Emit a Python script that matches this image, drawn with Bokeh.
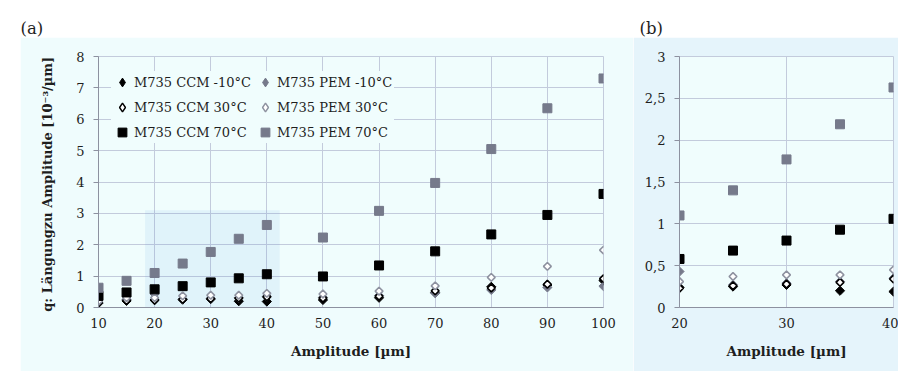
from bokeh.plotting import figure
from bokeh.models import FixedTicker, Legend, LegendItem, BoxAnnotation, Range1d, Label
from bokeh.layouts import column, row
from bokeh.embed import file_html
from bokeh.resources import INLINE
import math

# ---------------- data ----------------
amp = [10, 15, 20, 25, 30, 35, 40, 50, 60, 70, 80, 90, 100]
ccm_m10 = [0.14, 0.21, 0.24, 0.25, 0.27, 0.20, 0.19, 0.24, 0.31, 0.47, 0.66, 0.72, 0.86]
pem_m10 = [0.17, 0.25, 0.43, 0.27, 0.29, 0.31, 0.35, 0.32, 0.38, 0.46, 0.56, 0.64, 0.68]
ccm_30 = [0.15, 0.22, 0.23, 0.26, 0.28, 0.30, 0.34, 0.30, 0.36, 0.53, 0.62, 0.74, 0.92]
pem_30 = [0.20, 0.31, 0.31, 0.37, 0.39, 0.39, 0.45, 0.43, 0.52, 0.69, 0.96, 1.31, 1.83]
ccm_70 = [0.37, 0.48, 0.58, 0.68, 0.80, 0.93, 1.06, 0.99, 1.34, 1.79, 2.33, 2.95, 3.62]
pem_70 = [0.63, 0.85, 1.10, 1.40, 1.77, 2.19, 2.63, 2.23, 3.08, 3.97, 5.05, 6.35, 7.30]

series_names = ["M735 CCM -10°C", "M735 PEM -10°C", "M735 CCM 30°C",
                "M735 PEM 30°C", "M735 CCM 70°C", "M735 PEM 70°C"]

xticks_a = [10, 20, 30, 40, 50, 60, 70, 80, 90, 100]
yticks_a = [0, 1, 2, 3, 4, 5, 6, 7, 8]
xticks_b = [20, 30, 40]
yticks_b = [0, 0.5, 1, 1.5, 2, 2.5, 3]
ytick_labels_b = ["0", "0,5", "1", "1,5", "2", "2,5", "3"]

zoom_lo, zoom_hi = 20, 40          # range shown in panel (b)
highlight = dict(left=18.3, right=42.3, bottom=0, top=3.1)

x_title = "Amplitude [µm]"
y_title = "q: Längungzu  Amplitude [10⁻³/µm]"

# ---------------- style ----------------
FONT = "DejaVu Serif"
BG_A = "#effcfd"
BG_B = "#e5f4fb"
BG_PLOT = "#f0fdfd"
GRID = "#c3cbdc"
AXIS = "#8d91a0"
GREY = "#767a8b"
GREY_O = "#8e92a0"
TXT = "#1e1e1e"

styles = [
    dict(fill_color="black", line_color="black", size=6.5, line_width=1),
    dict(fill_color=GREY, line_color=GREY, size=6.5, line_width=1),
    dict(fill_color="white", line_color="black", size=5.5, line_width=1.6),
    dict(fill_color="white", line_color=GREY_O, size=5.5, line_width=1.6),
    dict(fill_color="black", line_color="black", size=9, line_width=1),
    dict(fill_color=GREY, line_color=GREY, size=9, line_width=1),
]
is_diamond = [True, True, True, True, False, False]
all_series = [ccm_m10, pem_m10, ccm_30, pem_30, ccm_70, pem_70]
NAN = float("nan")

TOP, BOTTOM = 19, 64          # borders above / below the plot frames
H = 334                        # height of the plot row


def draw_series(p, xs, ys, st, diamond):
    if diamond:
        return p.scatter(xs, ys, marker="square", angle=math.pi / 4, **st)
    return p.scatter(xs, ys, marker="square", **st)


def style_axes(p, xticks, yticks, ylabels=None, ytitle=None):
    for ax in (p.xaxis[0], p.yaxis[0]):
        ax.axis_line_color = AXIS
        ax.major_tick_line_color = AXIS
        ax.minor_tick_line_color = None
        ax.major_tick_in = 0
        ax.major_label_text_font = FONT
        ax.major_label_text_font_size = "13px"
        ax.major_label_text_color = TXT
        ax.axis_label_text_font = FONT
        ax.axis_label_text_font_size = "13px"
        ax.axis_label_text_font_style = "bold"
        ax.axis_label_text_color = TXT
    p.xaxis[0].axis_label_text_font_size = "13.5px"
    p.xaxis[0].ticker = FixedTicker(ticks=xticks)
    p.yaxis[0].ticker = FixedTicker(ticks=yticks)
    if ylabels:
        p.yaxis[0].major_label_overrides = {t: l for t, l in zip(yticks, ylabels)}
    p.xaxis[0].major_tick_out = 0
    p.xaxis[0].major_label_standoff = 10
    p.xaxis[0].axis_label = x_title
    p.xaxis[0].axis_label_standoff = 12
    p.yaxis[0].major_tick_out = 5
    p.yaxis[0].major_label_standoff = 9
    if ytitle:
        p.yaxis[0].axis_label = ytitle
        p.yaxis[0].axis_label_standoff = 18
    p.grid.grid_line_color = GRID
    p.grid.grid_line_width = 1
    p.xgrid.ticker = FixedTicker(ticks=xticks)
    p.ygrid.ticker = FixedTicker(ticks=yticks)
    p.outline_line_color = GRID


def blank(width, height, color, top=0, bottom=0):
    f = figure(width=width, height=height, x_range=Range1d(0, width),
               y_range=Range1d(height - bottom, top),
               output_backend="svg", toolbar_location=None,
               x_axis_type=None, y_axis_type=None, min_border=0,
               min_border_top=top, min_border_bottom=bottom,
               border_fill_color=color, background_fill_color=color)
    f.outline_line_color = None
    f.grid.visible = False
    return f


# ---------------- header ----------------
head = blank(898, 37, "white")
for txt, xx in (("(a)", 20), ("(b)", 639)):
    head.add_layout(Label(x=xx, y=28, text=txt, text_font=FONT, text_font_size="16.5px",
                          text_color=TXT, text_baseline="alphabetic"))

spacer_white = blank(20, H, "white", TOP, BOTTOM)

# ---------------- panel (a) ----------------
pa = figure(width=613, height=H, x_range=Range1d(10, 100), y_range=Range1d(0, 8),
            output_backend="svg", toolbar_location=None,
            min_border_left=78, min_border_right=30, min_border_top=TOP, min_border_bottom=BOTTOM,
            border_fill_color=BG_A, background_fill_color=BG_PLOT)
style_axes(pa, xticks_a, yticks_a, ytitle=y_title)
pa.add_layout(BoxAnnotation(fill_color="#3d8fe0", fill_alpha=0.09, line_color=None,
                            level="underlay", **highlight))

legend_renderers = []
for ys, st, dia in zip(all_series, styles, is_diamond):
    draw_series(pa, amp, ys, st, dia)
    # key swatch only (no visible point): diamond / square marker as in the original key
    lst = dict(st)
    lst["size"] = 9
    lst["line_width"] = 1.4 if lst["fill_color"] == "white" else 1
    legend_renderers.append(pa.scatter([NAN], [NAN], marker="diamond" if dia else "square", **lst))

items = [LegendItem(label=n, renderers=[r]) for n, r in zip(series_names, legend_renderers)]
legend = Legend(items=items, ncols=2, orientation="horizontal", location=(13, 164),
                glyph_width=22, glyph_height=22, label_standoff=1, spacing=3, padding=5,
                label_width=117, margin=0,
                label_text_font=FONT, label_text_font_size="13px", label_text_color=TXT,
                background_fill_color=BG_PLOT, background_fill_alpha=1.0,
                border_line_color=None)
pa.add_layout(legend)

# ---------------- panel (b) ----------------
pb = figure(width=265, height=H, x_range=Range1d(zoom_lo, zoom_hi), y_range=Range1d(0, 3),
            output_backend="svg", toolbar_location=None,
            min_border_left=46, min_border_right=5, min_border_top=TOP, min_border_bottom=BOTTOM,
            border_fill_color=BG_B, background_fill_color=BG_PLOT)
style_axes(pb, xticks_b, yticks_b, ylabels=ytick_labels_b)
sel = [i for i, a in enumerate(amp) if zoom_lo <= a <= zoom_hi]
for ys, st, dia in zip(all_series, styles, is_diamond):
    draw_series(pb, [amp[i] for i in sel], [ys[i] for i in sel], st, dia)

layout = column(head, row(spacer_white, pa, pb, spacing=0), spacing=0)

open("out.html", "w").write(file_html(layout, INLINE))
